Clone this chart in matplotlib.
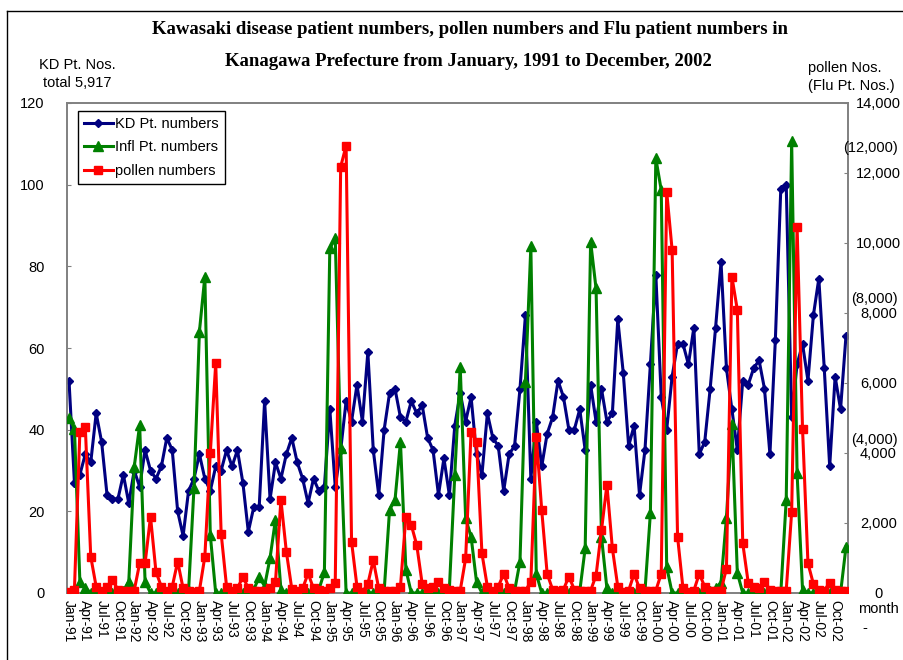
import matplotlib
matplotlib.use("Agg")
import matplotlib.pyplot as plt
from matplotlib.lines import Line2D
from matplotlib.ticker import FuncFormatter, MultipleLocator

# monthly values Jan-91 .. Dec-02 (one row per year)
kd_pts = [52, 27, 29, 34, 32, 44, 37, 24, 23, 23, 29, 22,
          30, 26, 35, 30, 28, 31, 38, 35, 20, 14, 25, 28,
          34, 28, 25, 31, 30, 35, 31, 35, 27, 15, 21, 21,
          47, 23, 32, 28, 34, 38, 32, 28, 22, 28, 25, 26,
          45, 26, 35, 47, 42, 51, 42, 59, 35, 24, 40, 49,
          50, 43, 42, 47, 44, 46, 38, 35, 24, 33, 24, 41,
          49, 42, 48, 34, 29, 44, 38, 36, 25, 34, 36, 50,
          68, 28, 42, 31, 39, 43, 52, 48, 40, 40, 45, 35,
          51, 42, 50, 42, 44, 67, 54, 36, 41, 24, 35, 56,
          78, 48, 40, 53, 61, 61, 56, 65, 34, 37, 50, 65,
          81, 55, 45, 35, 52, 51, 55, 57, 50, 34, 62, 99,
          100, 43, 56, 61, 52, 68, 77, 55, 31, 53, 45, 63]

flu_pts = [5000, 4700, 320, 150, 0, 0, 0, 0, 0, 0, 50, 320,
           3600, 4800, 320, 0, 0, 0, 0, 0, 0, 0, 50, 3000,
           7470, 9040, 1660, 0, 0, 0, 0, 0, 0, 0, 100, 450,
           200, 1000, 2100, 100, 0, 0, 0, 0, 0, 50, 100, 600,
           9850, 10130, 4150, 0, 0, 0, 0, 0, 0, 0, 50, 2380,
           2660, 4320, 670, 0, 0, 0, 0, 0, 0, 0, 100, 3370,
           6470, 2130, 1610, 320, 0, 0, 0, 0, 0, 0, 50, 900,
           6040, 9900, 550, 0, 0, 0, 0, 0, 0, 0, 50, 1280,
           10040, 8700, 1610, 130, 0, 0, 0, 0, 0, 0, 50, 2280,
           12420, 11510, 750, 0, 0, 0, 0, 0, 0, 0, 50, 130,
           300, 2150, 4820, 580, 0, 0, 0, 0, 0, 0, 0, 0,
           2660, 12900, 3420, 100, 0, 0, 0, 0, 0, 0, 0, 1320]

pollen = [30, 100, 4610, 4740, 1040, 180, 70, 180, 370, 100, 70, 70,
          70, 850, 850, 2180, 610, 180, 70, 180, 900, 130, 70, 30,
          70, 1040, 3990, 6560, 1700, 180, 70, 130, 470, 130, 70, 70,
          70, 130, 320, 2660, 1180, 120, 70, 130, 560, 130, 100, 70,
          140, 300, 12180, 12780, 1470, 180, 30, 260, 940, 130, 70, 70,
          70, 180, 2180, 1940, 1370, 260, 130, 180, 320, 130, 100, 70,
          70, 990, 4610, 4320, 1130, 180, 70, 180, 550, 130, 70, 70,
          70, 320, 4470, 2370, 550, 100, 70, 100, 470, 100, 70, 70,
          70, 500, 1800, 3090, 1280, 180, 30, 70, 550, 130, 70, 70,
          70, 550, 11470, 9800, 1610, 130, 30, 70, 550, 180, 70, 70,
          70, 700, 9040, 8090, 1420, 300, 180, 130, 320, 100, 70, 70,
          70, 2320, 10470, 4700, 850, 260, 100, 70, 300, 100, 70, 70]

years = ['91', '92', '93', '94', '95', '96', '97', '98', '99', '00', '01', '02']
tick_months = ['Jan', 'Apr', 'Jul', 'Oct']
tick_labels = [m + '-' + y for y in years for m in tick_months]
flu_marks = ['(12,000)', '(8,000)', '(4,000)']

sans = 'Liberation Sans'
navy, green, red, grey = '#000080', '#008000', '#ff0000', '#808080'

fig = plt.figure(figsize=(9.04, 6.6), dpi=100)
ax = fig.add_axes([67/904, 67/660, 781/904, 490/660])
ax2 = ax.twinx()

x = list(range(len(kd_pts)))
ax.plot(x, kd_pts, color=navy, lw=2.2, marker='D', ms=4.5, zorder=3)
ax2.plot(x, flu_pts, color=green, lw=2.2, marker='^', ms=7, zorder=3)
ax2.plot(x, pollen, color=red, lw=2.2, marker='s', ms=6, zorder=4)

ax.set_xlim(-0.37, len(x) - 1 + 0.37)
ax.set_ylim(0, 120)
ax2.set_ylim(0, 14000)
ax.yaxis.set_major_locator(MultipleLocator(20))
ax2.yaxis.set_major_locator(MultipleLocator(2000))
ax2.yaxis.set_major_formatter(FuncFormatter(lambda v, p: f'{int(v):,}'))

ax.set_xticks(range(0, len(x), 3))
ax.set_xticklabels(tick_labels, rotation=270, fontsize=10, family=sans)
ax.tick_params(axis='x', length=0, pad=5)
ax.tick_params(axis='y', direction='in', length=3, color=grey, labelsize=10.5, pad=16)
ax2.tick_params(axis='y', direction='in', length=3, color=grey, labelsize=10.5, pad=22)
for lab in ax.get_yticklabels():
    lab.set_family(sans)
for lab in ax2.get_yticklabels():
    lab.set_family(sans)
    lab.set_horizontalalignment('center')

for a in (ax, ax2):
    for s in a.spines.values():
        s.set_color(grey)
        s.set_linewidth(1.2)

# legend
handles = [Line2D([], [], color=navy, lw=2.2, marker='D', ms=4.5),
           Line2D([], [], color=green, lw=2.2, marker='^', ms=7),
           Line2D([], [], color=red, lw=2.2, marker='s', ms=6)]
leg = ax2.legend(handles, ['KD Pt. numbers', 'Infl Pt. numbers', 'pollen numbers'],
                 loc='upper left', bbox_to_anchor=(78/904, 1 - 111/660),
                 bbox_transform=fig.transFigure, borderaxespad=0,
                 prop={'family': sans, 'size': 10.5}, fancybox=False,
                 edgecolor='black', framealpha=1, handlelength=2.0,
                 handletextpad=0.15, labelspacing=0.65, borderpad=0.4)
leg.get_frame().set_linewidth(1)

# titles and axis captions
fig.text(470/904, 1 - 30/660, 'Kawasaki disease patient numbers, pollen numbers and Flu patient numbers in',
         ha='center', va='center', family='Liberation Serif', weight='bold', fontsize=13.5)
fig.text(468/904, 1 - 62/660, 'Kanagawa Prefecture from January, 1991 to December, 2002',
         ha='center', va='center', family='Liberation Serif', weight='bold', fontsize=13.5)
fig.text(77/904, 1 - 65/660, 'KD Pt. Nos.', ha='center', va='center', family=sans, fontsize=10.5)
fig.text(77/904, 1 - 83/660, 'total 5,917', ha='center', va='center', family=sans, fontsize=10.5)
fig.text(808/904, 1 - 68/660, 'pollen Nos.', ha='left', va='center', family=sans, fontsize=10.5)
fig.text(808/904, 1 - 86/660, '(Flu Pt. Nos.)', ha='left', va='center', family=sans, fontsize=10.5)
for lab, ypix in zip(flu_marks, [148, 299, 440]):
    fig.text(898/904, 1 - ypix/660, lab, ha='right', va='center', family=sans, fontsize=10.5)
fig.text(858/904, 1 - 609/660, 'month', ha='left', va='center', family=sans, fontsize=10.5)
fig.text(862/904, 1 - 628/660, '-', ha='left', va='center', family=sans, fontsize=10.5)

# outer frame (top and left edges visible)
fig.add_artist(Line2D([7/904, 7/904], [0, 1 - 11/660], color='black', lw=1, transform=fig.transFigure))
fig.add_artist(Line2D([7/904, 1], [1 - 11/660, 1 - 11/660], color='black', lw=1, transform=fig.transFigure))

fig.savefig('out.png', dpi=100)
